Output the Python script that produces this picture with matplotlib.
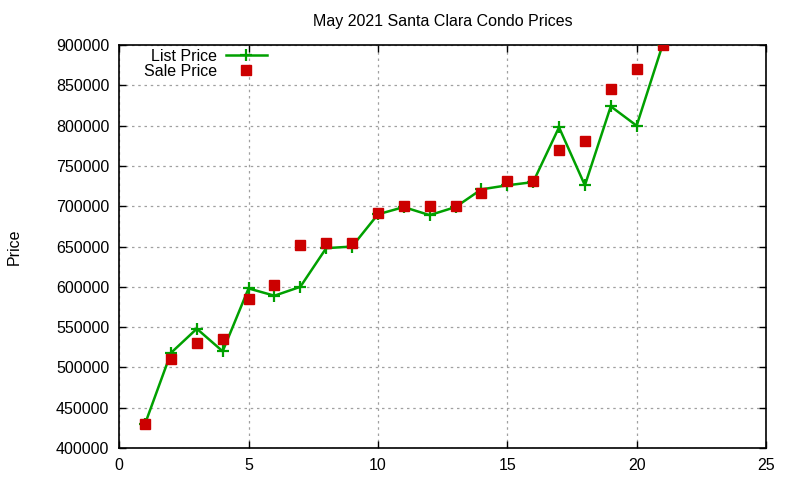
import matplotlib
matplotlib.use("Agg")
import matplotlib.pyplot as plt

x = list(range(1, 22))
list_price = [430000, 518000, 548000, 520000, 598000, 589000, 600000, 648000, 650000, 690000,
              699000, 689000, 699000, 721000, 726000, 730000, 798000, 726000, 824000, 800000, 900000]
sale_price = [430000, 510000, 530000, 535000, 585000, 602000, 652000, 655000, 655000, 692000,
              700000, 700000, 700000, 716000, 731000, 731000, 770000, 781000, 845000, 870000, 900000]
xticks = [0, 5, 10, 15, 20, 25]
yticks = list(range(400000, 900001, 50000))

plt.rcParams['font.family'] = ['Liberation Sans', 'DejaVu Sans']
FS = 11.5
fig = plt.figure(figsize=(8, 4.8), dpi=100)
ax = fig.add_axes([0.149, 0.0667, 0.8085, 0.8393])

ax.plot(x, list_price, color='#00a000', lw=1.8, marker='+', markersize=9, mew=1.6,
        label='List Price', zorder=3)
ax.plot(x, sale_price, linestyle='none', marker='s', color='#cc0000', markersize=7,
        label='Sale Price', zorder=4)

ax.set_xlim(0, 25)
ax.set_ylim(400000, 900000)
ax.set_xticks(xticks)
ax.set_yticks(yticks)
ax.ticklabel_format(style='plain', axis='y', useOffset=False)
ax.tick_params(direction='in', top=True, right=True, labelsize=FS, length=5, width=1, pad=7)
ax.grid(True, color='#a0a0a0', linestyle=(0, (2, 3)), linewidth=0.9)
for s in ax.spines.values():
    s.set_linewidth(1.2)

ax.set_title('May 2021 Santa Clara Condo Prices', fontsize=FS, pad=14)
ax.set_ylabel('Price', fontsize=FS, labelpad=25)

leg = ax.legend(loc='upper right', markerfirst=False, frameon=False, fontsize=FS,
                bbox_to_anchor=(0.2287, 0.991), handlelength=2.6, handletextpad=0.55,
                labelspacing=0.0, borderpad=0.0, borderaxespad=0.0)
for t in leg.get_texts():
    t.set_ha('right')
leg._legend_box.align = 'right'

fig.savefig('out.png', dpi=100)
